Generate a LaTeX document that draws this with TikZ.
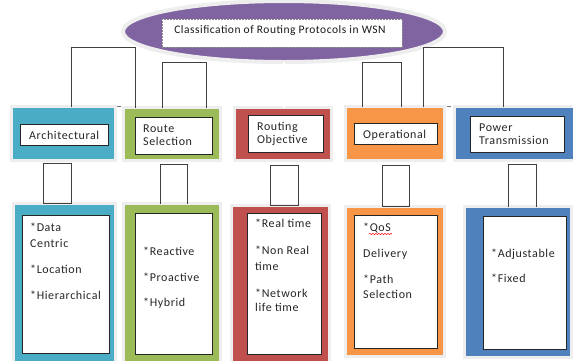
\documentclass[tikz,border=0pt]{standalone}
\usepackage{fontspec}
\setmainfont{Carlito}
\newfontfamily\spacedfont[LetterSpace=5]{Carlito}
\newfontfamily\titlefont[LetterSpace=4.5]{Carlito}
\usetikzlibrary{shapes.geometric,decorations.pathmorphing}
\definecolor{cteal}{HTML}{4BACC6}
\definecolor{cgreen}{HTML}{9BBB59}
\definecolor{cred}{HTML}{C0504D}
\definecolor{corange}{HTML}{F79646}
\definecolor{cblue}{HTML}{4F81BD}
\definecolor{cpurple}{HTML}{8064A2}
\definecolor{chalo}{HTML}{EEEEEE}
\tikzset{
  cbox/.style={rectangle, draw=chalo, line width=3pt, inner sep=0pt, outer sep=0pt},
  wbox/.style={rectangle, draw=black!85, fill=white, line width=0.9pt, inner sep=0pt, outer sep=0pt},
  conn/.style={draw=black!75, line width=0.9pt},
  txt/.style={anchor=base west, inner sep=0pt, font=\spacedfont\fontsize{12}{14}\selectfont, text=black!85},
  ttl/.style={anchor=base, inner sep=0pt, font=\titlefont\fontsize{11.5}{13}\selectfont, text=black!90},
}
\begin{document}
\begin{tikzpicture}[x=1pt,y=-1pt]
\useasboundingbox[fill=white] (0,0) rectangle (573,360);
% title ellipse
\node[ellipse, draw=chalo, line width=4pt, fill=cpurple, minimum width=322pt, minimum height=61pt, inner sep=0pt, outer sep=0pt] (ell) at (284,31.5) {};
\node[rectangle, fill=white, draw=black!45, dash pattern=on 2pt off 1pt, line width=0.8pt, minimum width=240pt, minimum height=28pt, inner sep=0pt] (tbox) at (282,33) {};
\node[ttl] (title) at (280,33.3) {Classification of Routing Protocols in WSN};
% row 1 boxes
\node[cbox, fill=cteal, minimum width=104pt, minimum height=54pt] (A1) at (63.5,133.5) {};
\node[cbox, fill=cgreen, minimum width=97pt, minimum height=53pt] (R1) at (172,134) {};
\node[cbox, fill=cred, minimum width=97pt, minimum height=53pt] (O1) at (283,134) {};
\node[cbox, fill=corange, minimum width=99pt, minimum height=54pt] (P1) at (395,133.5) {};
\node[cbox, fill=cblue, minimum width=121pt, minimum height=54pt] (T1) at (515,133.5) {};
\node[wbox, minimum width=88pt, minimum height=21pt] (A1i) at (64,134.5) {};
\node[wbox, minimum width=77pt, minimum height=37pt] (R1i) at (173.5,135.5) {};
\node[wbox, minimum width=75pt, minimum height=37pt] (O1i) at (285.5,133.5) {};
\node[wbox, minimum width=83pt, minimum height=21pt] (P1i) at (395.5,133.5) {};
\node[wbox, minimum width=94pt, minimum height=36pt] (T1i) at (517,134) {};
% row 2 boxes
\node[cbox, fill=cteal, minimum width=102pt, minimum height=160pt] (A2) at (64.5,283.5) {};
\node[cbox, fill=cgreen, minimum width=97pt, minimum height=160pt] (R2) at (172,283.5) {};
\node[cbox, fill=cred, minimum width=98pt, minimum height=158pt] (O2) at (280.5,284.5) {};
\node[cbox, fill=corange, minimum width=99pt, minimum height=150pt] (P2) at (395,281.5) {};
\node[cbox, fill=cblue, minimum width=107pt, minimum height=151pt] (T2) at (518,282) {};
\node[wbox, minimum width=87pt, minimum height=138pt] (A2i) at (65.5,284) {};
\node[wbox, minimum width=77pt, minimum height=141pt] (R2i) at (173.5,283.5) {};
\node[wbox, minimum width=74pt, minimum height=141pt] (O2i) at (284,283.5) {};
\node[wbox, minimum width=83pt, minimum height=133pt] (P2i) at (395.5,281.5) {};
\node[wbox, minimum width=83pt, minimum height=133pt] (T2i) at (524.5,282.5) {};
% row 1 labels
\node[txt] (la1) at (29,139) {Architectural};
\node[txt] (lr1) at (143,132) {Route};
\node[txt] (lr2) at (143,145) {Selection};
\node[txt] (lo1) at (257,130) {Routing};
\node[txt] (lo2) at (257,143) {Objective};
\node[txt] (lp1) at (363,138) {Operational};
\node[txt] (lt1) at (479,131) {Power};
\node[txt] (lt2) at (479,144) {Transmission};
% row 2 texts
\node[txt] (ta1) at (30,231) {*Data};
\node[txt] (ta2) at (30,247) {Centric};
\node[txt] (ta3) at (30,273) {*Location};
\node[txt] (ta4) at (30,299) {*Hierarchical};
\node[txt] (tr1) at (143,255) {*Reactive};
\node[txt] (tr2) at (143,281) {*Proactive};
\node[txt] (tr3) at (143,306) {*Hybrid};
\node[txt] (to1) at (255,227) {*Real time};
\node[txt] (to2) at (255,254) {*Non Real};
\node[txt] (to3) at (255,270) {time};
\node[txt] (to4) at (255,297) {*Network};
\node[txt] (to5) at (255,311) {life time};
\node[txt] (tp1) at (363,231) {*QoS};
\node[txt] (tp2) at (363,257) {Delivery};
\node[txt] (tp3) at (363,283) {*Path};
\node[txt] (tp4) at (363,298) {Selection};
\node[txt] (tt1) at (491,257) {*Adjustable};
\node[txt] (tt2) at (491,282) {*Fixed};
\draw[red, line width=0.5pt, decorate, decoration={snake, segment length=3pt, amplitude=0.6pt}] (369,234) -- (392,234);
% top connectors
\draw[conn] (71,0 |- A1.north) -- (71,47) -- (135,47) -- (135,0 |- R1.north);
\draw[conn] (162,0 |- R1.north) -- (162,62) -- (206,62) -- (206,0 |- R1.north);
\draw[draw=black!70, line width=0.7pt, double=white, double distance=1.2pt] (284,0 |- ell.south) -- (284,0 |- O1.north);
\draw[conn] (362,0 |- P1.north) -- (362,62) -- (401,62) -- (401,0 |- P1.north);
\draw[conn] (423,0 |- P1.north) -- (423,47) -- (503,47) -- (503,0 |- T1.north);
\draw[black!55, line width=1pt] (117,106) -- (121,106);
\draw[black!55, line width=1pt] (447,106) -- (451,106);
% middle connectors
\draw[conn] (43,163) rectangle (71,0 |- A2.north);
\draw[conn] (160,0 |- R2.north) -- (160,164) -- (187,164) -- (187,0 |- R2.north);
\draw[conn] (270,165) rectangle (298,0 |- O2.north);
\draw[conn] (382,165) rectangle (409,0 |- P2.north);
\draw[conn] (508,0 |- T2.north) -- (508,164) -- (536,164) -- (536,0 |- T2.north);
\end{tikzpicture}
\end{document}
